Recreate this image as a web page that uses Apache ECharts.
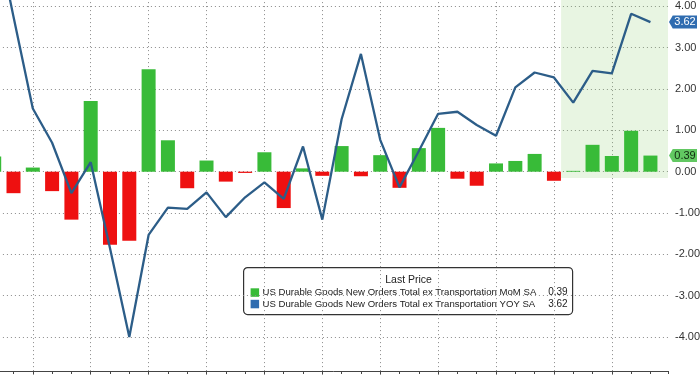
<!DOCTYPE html>
<html>
<head>
<meta charset="utf-8">
<script src="https://cdn.jsdelivr.net/npm/echarts@6/dist/echarts.min.js"></script>
<style>
  html, body { margin: 0; padding: 0; background: #fff; }
  #chart { width: 700px; height: 375px; }
</style>
</head>
<body>
<div id="chart"></div>
<script>
// ---- Data ----
const months = ['Dec','Jan','Feb','Mar','Apr','May','Jun','Jul','Aug','Sep','Oct','Nov',
                'Dec','Jan','Feb','Mar','Apr','May','Jun','Jul','Aug','Sep','Oct','Nov',
                'Dec','Jan','Feb','Mar','Apr','May','Jun','Jul','Aug','Sep','Oct'];
const momValues = [0.37, -0.52, 0.10, -0.47, -1.16, 1.71, -1.77, -1.67, 2.48, 0.76,
                   -0.40, 0.27, -0.24, -0.03, 0.47, -0.88, 0.08, -0.10, 0.62, -0.11,
                   0.40, -0.39, 0.57, 1.06, -0.17, -0.34, 0.20, 0.26, 0.43, -0.22,
                   0.02, 0.65, 0.38, 0.99, 0.39];
const yoyValues = [6.0, 3.75, 1.53, 0.70, -0.52, 0.23, -1.85, -4.0, -1.53, -0.87,
                   -0.90, -0.50, -1.10, -0.62, -0.26, -0.66, 0.61, -1.16, 1.27, 2.85,
                   0.77, -0.38, 0.50, 1.40, 1.45, 1.13, 0.87, 2.04, 2.40, 2.28,
                   1.67, 2.44, 2.38, 3.82, 3.62];
const seriesNames = ['US Durable Goods New Orders Total ex Transportation MoM SA',
                     'US Durable Goods New Orders Total ex Transportation YOY SA'];
const legendTitle = 'Last Price';

// ---- Layout / style ----
const X_MIN = 0, X_MAX = 35.91, Y_MIN = -5, Y_MAX = 4.2;
const SHADE_FROM = 30.37, SHADE_BOTTOM = -0.155;
const GREEN = '#38bb38', RED = '#ee1010', LINE = '#2c5d88';
const FONT = 'Liberation Sans, Arial, sans-serif';
const isInt = v => Math.abs(v - Math.round(v)) < 1e-6;

const lastMom = momValues[momValues.length - 1];
const lastYoy = yoyValues[yoyValues.length - 1];

const tagPath = 'path://M0,5 L4,0 L30,0 L30,10 L4,10 Z';

const chart = echarts.init(document.getElementById('chart'), null, { renderer: 'canvas' });
const option = {
  animation: false,
  backgroundColor: '#fff',
  textStyle: { fontFamily: FONT },
  grid: { left: -25.1, right: 32, top: -1.9, bottom: -3.35, containLabel: false, outerBoundsMode: 'none' },
  xAxis: {
    type: 'value', min: X_MIN, max: X_MAX, interval: 3, offset: -7.35,
    axisLine: { show: true, onZero: false, lineStyle: { color: '#444', width: 1 } },
    axisTick: { show: true, length: 3, lineStyle: { color: '#444' } },
    minorTick: { show: true, splitNumber: 3, length: 3, lineStyle: { color: '#444' } },
    splitLine: { show: true, showMinLine: false, showMaxLine: false, lineStyle: { color: '#8a8a8a', type: [1, 3], width: 1 } },
    axisLabel: {
      formatter: v => (isInt(v) && months[Math.round(v) - 1]) ? months[Math.round(v) - 1] : '',
      color: '#333', fontSize: 11, margin: 3, padding: [0, 12, 0, 0], fontFamily: FONT
    }
  },
  yAxis: {
    type: 'value', position: 'right', min: Y_MIN, max: Y_MAX, interval: 1,
    axisLine: { show: true, lineStyle: { color: '#7cbf7c', width: 1.5 } },
    axisTick: { show: true, length: 4, lineStyle: { color: '#5aa85a' } },
    minorTick: { show: true, splitNumber: 2, length: 3, lineStyle: { color: '#7cbf7c' } },
    splitLine: { show: true, showMaxLine: false, lineStyle: { color: '#8a8a8a', type: [1, 3], width: 1 } },
    axisLabel: {
      formatter: v => (isInt(v) && v > Y_MIN + 0.5) ? v.toFixed(2) : '',
      color: '#333', fontSize: 11, margin: 7, fontFamily: FONT
    }
  },
  series: [
    {
      name: seriesNames[0], type: 'bar', barWidth: 14,
      data: momValues.map((v, i) => [i + 1, v]),
      itemStyle: { color: p => (p.value[1] >= 0 ? GREEN : RED) },
      markArea: {
        silent: true,
        itemStyle: { color: 'rgba(140,205,110,0.2)' },
        data: [[{ coord: [SHADE_FROM, SHADE_BOTTOM] }, { coord: [X_MAX, Y_MAX] }]]
      },
      markPoint: {
        silent: true, symbol: tagPath, symbolSize: [28, 13], symbolOffset: [15, 0],
        itemStyle: { color: '#62c862' },
        label: { show: true, position: 'inside', color: '#102a10', fontSize: 11, offset: [2, 0], fontFamily: FONT,
                 formatter: lastMom.toFixed(2) },
        data: [{ coord: [X_MAX, lastMom] }]
      }
    },
    {
      name: seriesNames[1], type: 'line', z: 3,
      data: yoyValues.map((v, i) => [i + 1, v]),
      symbol: 'none', lineStyle: { color: LINE, width: 2.3 },
      markPoint: {
        silent: true, symbol: tagPath, symbolSize: [28, 13], symbolOffset: [15, 0],
        itemStyle: { color: '#2f6cb0' },
        label: { show: true, position: 'inside', color: '#fff', fontSize: 11, offset: [2, 0], fontFamily: FONT,
                 formatter: lastYoy.toFixed(2) },
        data: [{ coord: [X_MAX, lastYoy] }]
      }
    }
  ],
  graphic: [{
    type: 'group', left: 243, top: 267, z: 100,
    children: [
      { type: 'rect', shape: { x: 0, y: 0, width: 329, height: 47, r: 4 },
        style: { fill: '#fff', stroke: '#333', lineWidth: 1.2 } },
      { type: 'text', x: 165, y: 13,
        style: { text: legendTitle, fill: '#222', font: '10.5px ' + FONT, textAlign: 'center', textVerticalAlign: 'middle' } },
      { type: 'rect', shape: { x: 7, y: 20.7, width: 8.5, height: 8.5 }, style: { fill: GREEN } },
      { type: 'text', x: 19, y: 25,
        style: { text: seriesNames[0], fill: '#222', font: '9.6px ' + FONT, textAlign: 'left', textVerticalAlign: 'middle' } },
      { type: 'text', x: 324, y: 25,
        style: { text: lastMom.toFixed(2), fill: '#222', font: '10px ' + FONT, textAlign: 'right', textVerticalAlign: 'middle' } },
      { type: 'rect', shape: { x: 7, y: 32.2, width: 8.5, height: 8.5 }, style: { fill: '#2f6cb0' } },
      { type: 'text', x: 19, y: 36.5,
        style: { text: seriesNames[1], fill: '#222', font: '9.6px ' + FONT, textAlign: 'left', textVerticalAlign: 'middle' } },
      { type: 'text', x: 324, y: 36.5,
        style: { text: lastYoy.toFixed(2), fill: '#222', font: '10px ' + FONT, textAlign: 'right', textVerticalAlign: 'middle' } }
    ]
  }]
};
chart.setOption(option);
</script>
</body>
</html>
